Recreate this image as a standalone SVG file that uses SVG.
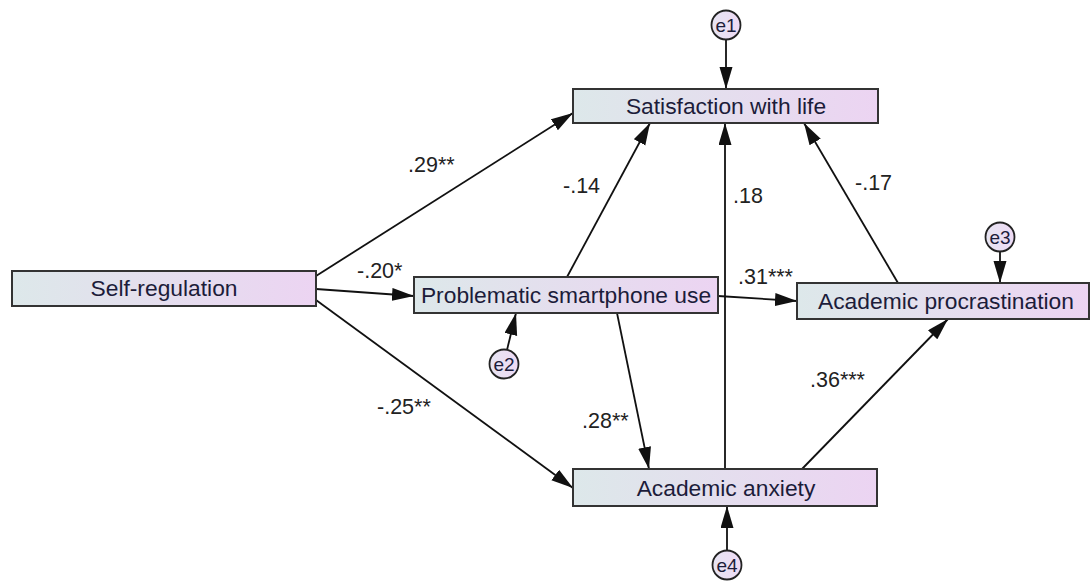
<svg xmlns="http://www.w3.org/2000/svg" width="1091" height="581" viewBox="0 0 1091 581">
  <defs>
    <linearGradient id="boxFill" x1="0" y1="0" x2="1" y2="0">
      <stop offset="0" stop-color="#dde8ea"/>
      <stop offset="1" stop-color="#ecd4f2"/>
    </linearGradient>
    <linearGradient id="errFill" x1="0" y1="0" x2="1" y2="0">
      <stop offset="0" stop-color="#e6e4f2"/>
      <stop offset="1" stop-color="#eedaf4"/>
    </linearGradient>
    <marker id="arrow" markerUnits="userSpaceOnUse" markerWidth="24" markerHeight="14" refX="22" refY="6.5" orient="auto">
      <path d="M0,0 L22,6.5 L0,13 z" fill="#111"/>
    </marker>
    <style>
      .box { fill: url(#boxFill); stroke: #333; stroke-width: 2; }
      .err { fill: url(#errFill); stroke: #222; stroke-width: 1.8; }
      .label { font-family: "Liberation Sans", Arial, sans-serif; font-size: 22.8px; fill: #1c1c3a; text-anchor: middle; }
      .elabel { font-family: "Liberation Sans", Arial, sans-serif; font-size: 19px; fill: #1c1c3a; text-anchor: middle; }
      .coef { font-family: "Liberation Sans", Arial, sans-serif; font-size: 21.5px; fill: #222; }
      .edge { stroke: #111; stroke-width: 1.8; fill: none; marker-end: url(#arrow); }
    </style>
  </defs>
  <rect width="1091" height="581" fill="#ffffff"/>

  <!-- paths between variables -->
  <g id="connectors">
    <line class="edge" x1="316" y1="276" x2="573" y2="113"/>
    <line class="edge" x1="316" y1="289" x2="414" y2="296"/>
    <line class="edge" x1="316" y1="300" x2="573" y2="488"/>
    <line class="edge" x1="567" y1="277" x2="650" y2="123"/>
    <line class="edge" x1="725" y1="469" x2="725" y2="123"/>
    <line class="edge" x1="898" y1="283" x2="804" y2="123"/>
    <line class="edge" x1="718" y1="296" x2="797" y2="301"/>
    <line class="edge" x1="617" y1="313" x2="649" y2="469"/>
    <line class="edge" x1="802" y1="469" x2="948" y2="319"/>
    <!-- residual paths -->
    <line class="edge" x1="726" y1="40" x2="726" y2="89"/>
    <line class="edge" x1="507" y1="350" x2="516" y2="313"/>
    <line class="edge" x1="1000" y1="252" x2="1000" y2="283"/>
    <line class="edge" x1="727" y1="550" x2="727" y2="506"/>
  </g>

  <!-- path coefficients -->
  <g id="coefficients">
    <text class="coef" x="408" y="172">.29**</text>
    <text class="coef" x="357" y="278">-.20*</text>
    <text class="coef" x="377" y="414">-.25**</text>
    <text class="coef" x="563" y="193">-.14</text>
    <text class="coef" x="733" y="203">.18</text>
    <text class="coef" x="855" y="190">-.17</text>
    <text class="coef" x="738" y="284">.31***</text>
    <text class="coef" x="582" y="428">.28**</text>
    <text class="coef" x="810" y="387">.36***</text>
  </g>

  <g id="self-regulation">
    <rect class="box" x="12" y="271" width="304" height="35"/>
    <text class="label" x="164" y="296">Self-regulation</text>
  </g>

  <g id="satisfaction">
    <rect class="box" x="573" y="89" width="305" height="34"/>
    <text class="label" x="726" y="114">Satisfaction with life</text>
  </g>

  <g id="smartphone">
    <rect class="box" x="414" y="277" width="304" height="36"/>
    <text class="label" x="566" y="303">Problematic smartphone use</text>
  </g>

  <g id="procrastination">
    <rect class="box" x="797" y="283" width="292" height="36"/>
    <text class="label" x="946" y="309">Academic procrastination</text>
  </g>

  <g id="anxiety">
    <rect class="box" x="573" y="469" width="304" height="37"/>
    <text class="label" x="726" y="496">Academic anxiety</text>
  </g>

  <g id="e1">
    <circle class="err" cx="726" cy="25" r="14.5"/>
    <text class="elabel" x="726" y="32">e1</text>
  </g>

  <g id="e2">
    <circle class="err" cx="504" cy="364" r="14.5"/>
    <text class="elabel" x="504" y="371">e2</text>
  </g>

  <g id="e3">
    <circle class="err" cx="1000" cy="237" r="14.5"/>
    <text class="elabel" x="1000" y="244">e3</text>
  </g>

  <g id="e4">
    <circle class="err" cx="727" cy="565" r="14.5"/>
    <text class="elabel" x="727" y="572">e4</text>
  </g>
</svg>
